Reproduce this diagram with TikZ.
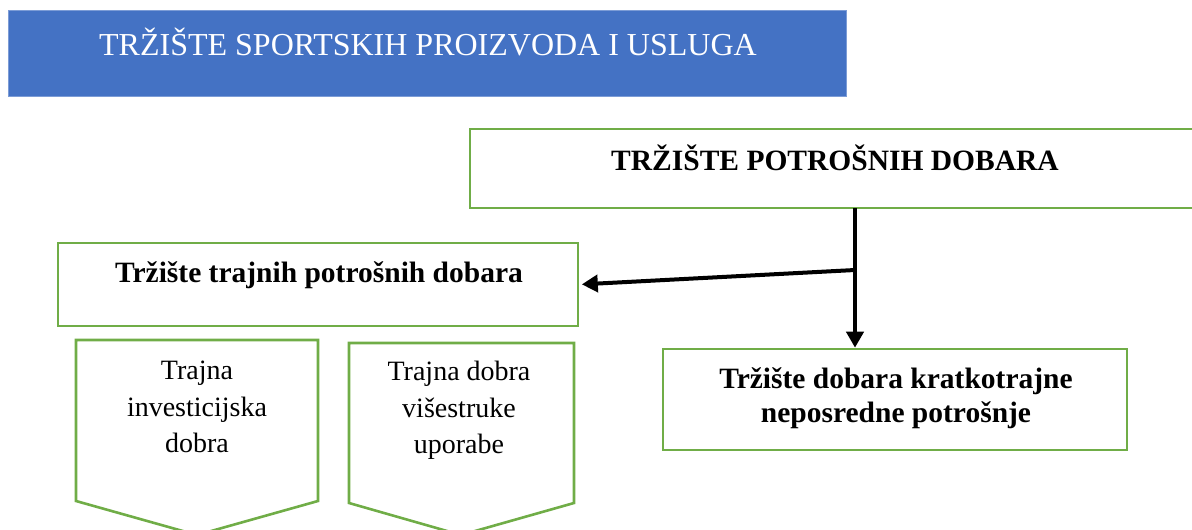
\documentclass[tikz,border=0pt]{standalone}
\usepackage{fontspec}
\setmainfont{Liberation Serif}
\usetikzlibrary{arrows.meta}
\definecolor{hdrblue}{HTML}{4472C4}
\definecolor{boxgreen}{HTML}{70AD47}
\tikzset{
  gbox/.style={draw=boxgreen, line width=2.6pt, fill=white, inner sep=0pt},
  hdr/.style={fill=hdrblue, draw=hdrblue!70, line width=0.8pt, inner sep=0pt},
  txt/.style={inner sep=0pt, align=center, font=\fontsize{28}{36.5}\selectfont},
  btxt/.style={inner sep=0pt, align=center, font=\fontsize{29.5}{34}\selectfont\bfseries},
  pent/.style={draw=boxgreen, line width=2.6pt, line join=miter},
  conn/.style={line width=4pt, -{Triangle[length=16pt,width=17pt]}},
}
\begin{document}
\begin{tikzpicture}[x=1pt,y=-1pt]
\useasboundingbox (0,0) rectangle (1192,530);
\begin{scope}
\clip (0,0) rectangle (1192,530);
% header
\node[hdr, minimum width=838pt, minimum height=86pt] (hdr) at (427,53) {};
\node[txt, text=white, font=\fontsize{32}{36}\selectfont] (hdrt) at (428,42) {TRŽIŠTE SPORTSKIH PROIZVODA I USLUGA};
% top box
\node[gbox, minimum width=740pt, minimum height=79pt] (top) at (840,168.5) {};
\node[btxt] (topt) at (835,158) {TRŽIŠTE POTROŠNIH DOBARA};
% left box
\node[gbox, minimum width=520pt, minimum height=83pt] (left) at (318,284.5) {};
\node[btxt] (leftt) at (319,275.5) {Tržište trajnih potrošnih dobara};
% right box
\node[gbox, minimum width=464pt, minimum height=101pt] (right) at (895,399.5) {};
\node[btxt] (rightt) at (896,398) {Tržište dobara kratkotrajne\\neposredne potrošnje};
% pentagons
\draw[pent] (76,340) -- (318,340) -- (318,501) -- (197,535) -- (76,501) -- cycle;
\node[txt] (p1t) at (197,407) {Trajna\\investicijska\\dobra};
\draw[pent] (349,343) -- (574,343) -- (574,503) -- (461,535) -- (349,503) -- cycle;
\node[txt] (p2t) at (459,410.5) {Trajna dobra\\višestruke\\uporabe};
% connectors
\coordinate (vtop) at (855,208);
\coordinate (j) at (855,270);
\draw[conn] (vtop) -- (vtop |- right.north);
\draw[conn, shorten >=2.5pt] (j) -- (left.east);
\end{scope}
\end{tikzpicture}
\end{document}
